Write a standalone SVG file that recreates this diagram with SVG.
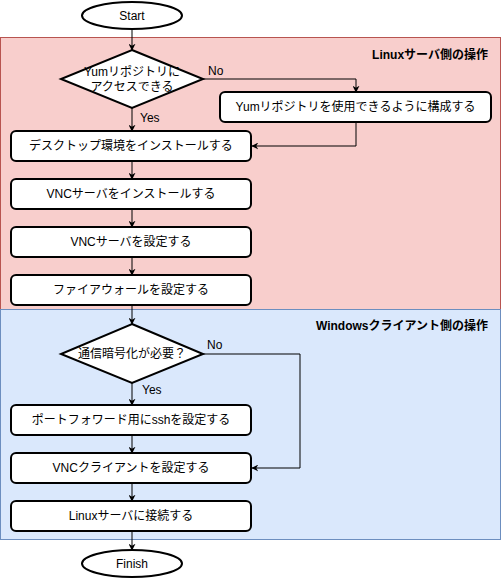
<svg xmlns="http://www.w3.org/2000/svg" width="501" height="578" viewBox="0 0 501 578">
<defs>
<marker id="arr" viewBox="0 0 10 10" refX="9" refY="5" markerWidth="7" markerHeight="7" orient="auto" markerUnits="userSpaceOnUse">
<path d="M0,0 L10,5 L0,10 L3,5 Z" fill="#000"/>
</marker>
<style>
text{font-family:"Liberation Sans","Noto Sans CJK JP",sans-serif;font-size:12px;fill:#000}
.n{fill:#fff;stroke:#000;stroke-width:2}
.c{fill:none;stroke:#000;stroke-width:1;marker-end:url(#arr)}
.t{text-anchor:middle;dominant-baseline:central}
.h{font-weight:bold;text-anchor:end}
</style>
</defs>
<g id="lane-linux">
<rect x="0.5" y="37.5" width="500" height="272" fill="#f8cecc" stroke="#b85450"/>
<text class="h" x="488" y="59">Linuxサーバ側の操作</text>
</g>
<g id="lane-windows">
<rect x="0.5" y="309.5" width="500" height="230" fill="#dae8fc" stroke="#6c8ebf"/>
<text class="h" x="488" y="330">Windowsクライアント側の操作</text>
</g>
<g id="connectors">
<path class="c" d="M132,29 V50"/>
<path class="c" d="M203,79 H356 V92"/>
<text x="208" y="75">No</text>
<path class="c" d="M356,122 V146 H252"/>
<path class="c" d="M132,108 V131"/>
<text x="140" y="122">Yes</text>
<path class="c" d="M132,161 V179"/>
<path class="c" d="M132,209 V227"/>
<path class="c" d="M132,257 V275"/>
<path class="c" d="M132,305 V324"/>
<path class="c" d="M203,354 H300 V468 H252"/>
<text x="207" y="349">No</text>
<path class="c" d="M132,383 V405"/>
<text x="142" y="394">Yes</text>
<path class="c" d="M132,435 V453"/>
<path class="c" d="M132,483 V501"/>
<path class="c" d="M132,531 V550"/>
</g>
<g id="start">
<ellipse class="n" cx="132" cy="15.5" rx="50" ry="13.5"/>
<text class="t" x="132" y="15.5">Start</text>
</g>
<g id="q-yum">
<polygon class="n" points="132,50 203,79 132,108 61,79"/>
<text class="t" x="132" y="72">Yumリポジトリに</text>
<text class="t" x="132" y="87">アクセスできる</text>
</g>
<g id="yum-config">
<rect class="n" x="220" y="92" width="271" height="30" rx="5"/>
<text class="t" x="355.5" y="107">Yumリポジトリを使用できるように構成する</text>
</g>
<g id="desktop">
<rect class="n" x="11" y="131" width="240" height="30" rx="5"/>
<text class="t" x="131" y="146">デスクトップ環境をインストールする</text>
</g>
<g id="vnc-install">
<rect class="n" x="11" y="179" width="240" height="30" rx="5"/>
<text class="t" x="131" y="194">VNCサーバをインストールする</text>
</g>
<g id="vnc-config">
<rect class="n" x="11" y="227" width="240" height="30" rx="5"/>
<text class="t" x="131" y="242">VNCサーバを設定する</text>
</g>
<g id="firewall">
<rect class="n" x="11" y="275" width="240" height="30" rx="5"/>
<text class="t" x="131" y="290">ファイアウォールを設定する</text>
</g>
<g id="q-encrypt">
<polygon class="n" points="132,324 203,354 132,383 61,354"/>
<text class="t" x="132" y="354">通信暗号化が必要？</text>
</g>
<g id="ssh">
<rect class="n" x="11" y="405" width="240" height="30" rx="5"/>
<text class="t" x="131" y="420">ポートフォワード用にsshを設定する</text>
</g>
<g id="vnc-client">
<rect class="n" x="11" y="453" width="240" height="30" rx="5"/>
<text class="t" x="131" y="468">VNCクライアントを設定する</text>
</g>
<g id="connect">
<rect class="n" x="11" y="501" width="240" height="30" rx="5"/>
<text class="t" x="131" y="516">Linuxサーバに接続する</text>
</g>
<g id="finish">
<ellipse class="n" cx="132" cy="563.5" rx="50" ry="13.5"/>
<text class="t" x="132" y="563.5">Finish</text>
</g>
</svg>
